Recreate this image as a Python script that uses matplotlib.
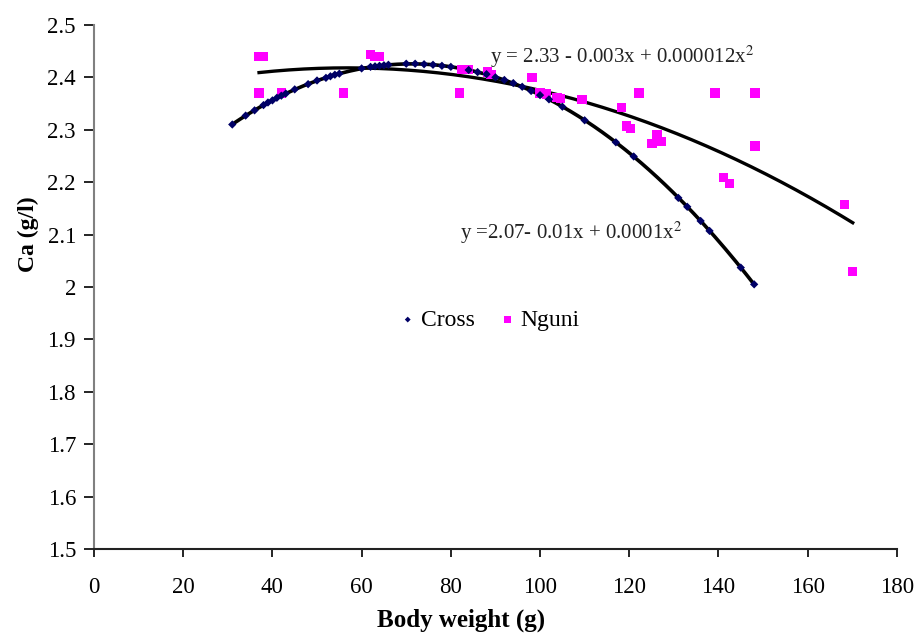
import numpy as np
import matplotlib
matplotlib.use("Agg")
import matplotlib.pyplot as plt
from matplotlib.ticker import FuncFormatter

# ---- data ----
cross_x = [31, 34, 36, 38, 39, 40, 41, 42, 43, 45, 48, 50, 52, 53, 54, 55, 60, 62, 63, 64,
           65, 66, 70, 72, 74, 76, 78, 80, 84, 86, 88, 90, 92, 94, 96, 98, 100, 102, 105,
           110, 117, 121, 131, 133, 136, 138, 145, 148]
cross_y = [2.310, 2.327, 2.337, 2.347, 2.352, 2.356, 2.361, 2.365, 2.369, 2.377, 2.387, 2.394,
           2.399, 2.402, 2.405, 2.407, 2.417, 2.420, 2.421, 2.422, 2.423, 2.424, 2.426, 2.426,
           2.425, 2.424, 2.422, 2.420, 2.414, 2.410, 2.406, 2.400, 2.395, 2.389, 2.382, 2.374,
           2.366, 2.358, 2.344, 2.318, 2.276, 2.249, 2.170, 2.153, 2.126, 2.107, 2.037, 2.005]

nguni_x = [37, 38, 37, 42, 56, 62, 63, 64, 82, 82.5, 84, 88.3, 89, 98.2, 100, 101.5, 103.8,
           104.5, 109.4, 118.3, 122.2, 119.4, 120.3, 126.2, 125.1, 127.3, 139.2, 148.2, 148.2,
           141.2, 142.4, 168.3, 170.1]
nguni_y = [2.440, 2.440, 2.370, 2.370, 2.370, 2.443, 2.440, 2.440, 2.370, 2.415, 2.415, 2.410,
           2.405, 2.400, 2.370, 2.368, 2.362, 2.360, 2.358, 2.343, 2.370, 2.307, 2.303, 2.290,
           2.274, 2.277, 2.370, 2.370, 2.269, 2.209, 2.198, 2.158, 2.030]

# trend-line coefficients as drawn (a + b x + c x^2)
cross_coef = [2.0639, 0.010162, -0.00007136]
nguni_coef = [2.3438, 0.002615, -0.00002302]

cross_eq = "y =2.07- 0.01x + 0.0001x$^2$"
nguni_eq = "y = 2.33 - 0.003x + 0.000012x$^2$"

x_ticks = [0, 20, 40, 60, 80, 100, 120, 140, 160, 180]
y_ticks = [1.5, 1.6, 1.7, 1.8, 1.9, 2.0, 2.1, 2.2, 2.3, 2.4, 2.5]

plt.rcParams['font.family'] = ['Liberation Serif', 'DejaVu Serif']
plt.rcParams['mathtext.fontset'] = 'stix'

fig = plt.figure(figsize=(9.18, 6.39), dpi=100)
ax = fig.add_axes([0.1024, 0.1408, 0.8746, 0.8202])

# trend lines
xc = np.linspace(min(cross_x), max(cross_x), 200)
yc = cross_coef[0] + cross_coef[1] * xc + cross_coef[2] * xc ** 2
xn = np.linspace(min(nguni_x), max(nguni_x), 200)
yn = nguni_coef[0] + nguni_coef[1] * xn + nguni_coef[2] * xn ** 2
ax.plot(xc, yc, color='black', lw=2.6, zorder=2)
ax.plot(xn, yn, color='black', lw=2.4, zorder=2)

ax.scatter(nguni_x, nguni_y, marker='s', s=44, color='#ff00ff', edgecolors='none',
           zorder=3, label='Nguni')
ax.scatter(cross_x, cross_y, marker='D', s=18, color='#000066', edgecolors='none',
           zorder=4, label='Cross')

ax.text(88.8, 2.439, nguni_eq, fontsize=15, va='center', ha='left', color='#222222')
ax.text(82.0, 2.104, cross_eq, fontsize=15, va='center', ha='left', color='#222222')

handles, labels = ax.get_legend_handles_labels()
order = [1, 0]
ax.legend([handles[i] for i in order], [labels[i] for i in order], loc='center',
          bbox_to_anchor=(0.492, 0.437), ncol=2, frameon=False, fontsize=17,
          handletextpad=0.15, columnspacing=1.0, markerscale=0.7, handlelength=0.8)

ax.set_xlim(0, 180)
ax.set_ylim(1.5, 2.5)
ax.set_xticks(x_ticks)
ax.set_yticks(y_ticks)
ax.yaxis.set_major_formatter(FuncFormatter(lambda v, p: f"{v:g}"))

for s in ['top', 'right']:
    ax.spines[s].set_visible(False)
ax.spines['left'].set_color('#808080')
ax.spines['left'].set_linewidth(1.5)
ax.spines['bottom'].set_color('#222222')
ax.spines['bottom'].set_linewidth(1.5)

ax.tick_params(axis='x', direction='out', length=6, width=1.2, pad=14, labelsize=16.5)
ax.tick_params(axis='y', direction='out', length=7, width=1.2, pad=6, labelsize=16.5)

ax.set_xlabel('Body weight (g)', fontsize=18, fontweight='bold', va='center')
ax.set_ylabel('Ca (g/l)', fontsize=17, fontweight='bold', va='center')
ax.xaxis.set_label_coords(0.457, -0.136)
ax.yaxis.set_label_coords(-0.082, 0.60)

fig.savefig('out.png', dpi=100)
